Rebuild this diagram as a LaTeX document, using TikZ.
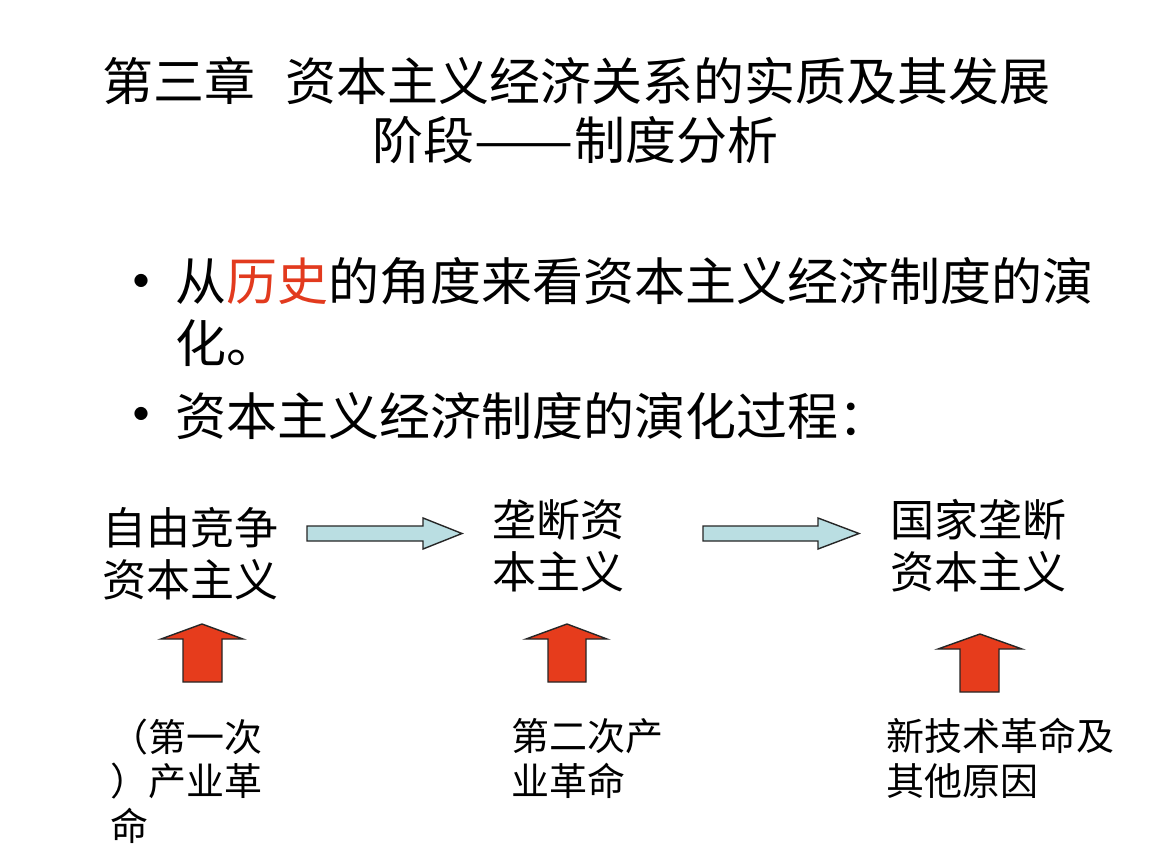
\documentclass[tikz,border=0pt]{standalone}
\usepackage{fontspec}
\setmainfont{Noto Sans CJK SC}
\definecolor{hist}{RGB}{226,58,30}
\definecolor{redfill}{RGB}{230,60,28}
\definecolor{bluefill}{RGB}{186,222,226}
\begin{document}
\begin{tikzpicture}[x=1pt,y=-1pt,
  titletext/.style={font=\fontsize{51}{59}\selectfont, inner sep=0, anchor=base},
  bullettext/.style={font=\fontsize{51}{62}\selectfont, inner sep=0, anchor=base west, align=left},
  bulletdot/.style={font=\fontsize{62}{62}\selectfont, inner sep=0, anchor=base},
  stage/.style={font=\fontsize{44}{52}\selectfont, inner sep=0, anchor=base west, align=left},
  cause/.style={font=\fontsize{38}{44.5}\selectfont, inner sep=0, anchor=base west, align=left},
  flow/.style={draw=black!85, line width=1.4pt, fill=bluefill, line join=miter},
  push/.style={draw=black!85, line width=1.4pt, fill=redfill, line join=miter},
]
\useasboundingbox[fill=white] (0,0) rectangle (1152,864);

\node[titletext] (t1) at (576.5,101) {第三章\hspace{0.6em}资本主义经济关系的实质及其发展};
\node[titletext] (t2) at (575.5,160) {阶段\scalebox{1.16}[1]{——}制度分析};

\node[bulletdot] (d1) at (141,304) {•};
\node[bullettext] (p1) at (175,362) {从\textcolor{hist}{历史}的角度来看资本主义经济制度的演\\化。};
\node[bulletdot] (d2) at (141,437) {•};
\node[bullettext] (p2) at (175,435) {资本主义经济制度的演化过程：};

\node[stage] (s1) at (102,596) {自由竞争\\资本主义};
\node[stage] (s2) at (492,588) {垄断资\\本主义};
\node[stage] (s3) at (890,588) {国家垄断\\资本主义};

\node[cause] (c1) at (110,840) {（第一次\\）产业革\\命};
\node[cause] (c2) at (511,795) {第二次产\\业革命};
\node[cause] (c3) at (886,795) {新技术革命及\\其他原因};

\draw[flow] (307,526) -- (423,526) -- (423,518) -- (462,533.5) -- (423,549) -- (423,541) -- (307,541) -- cycle;
\draw[flow] (703,526) -- (818,526) -- (818,518) -- (859,533.5) -- (818,549) -- (818,541) -- (703,541) -- cycle;

\draw[push] (183,682) -- (183,639) -- (161,639) -- (202,624) -- (243,639) -- (222,639) -- (222,682) -- cycle;
\draw[push] (548,682) -- (548,639) -- (526,639) -- (567,624) -- (607,639) -- (586,639) -- (586,682) -- cycle;
\draw[push] (960,692) -- (960,649) -- (938,649) -- (980,634) -- (1022,649) -- (999,649) -- (999,692) -- cycle;
\end{tikzpicture}
\end{document}
